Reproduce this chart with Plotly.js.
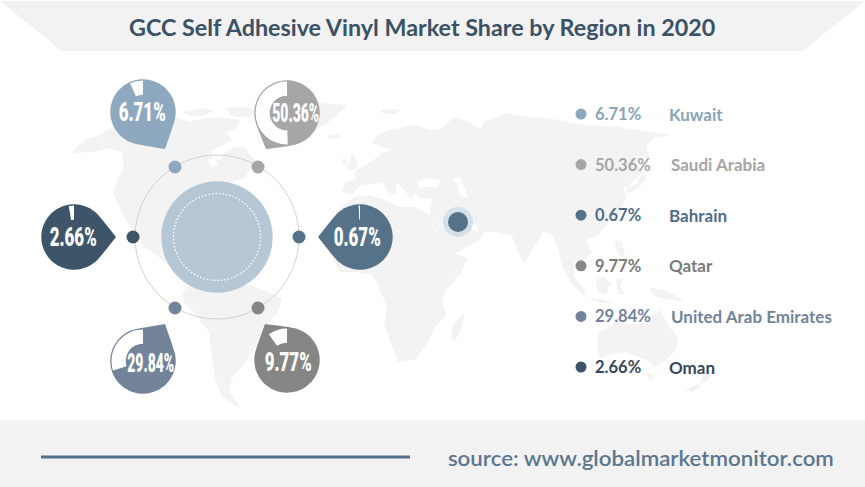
<!DOCTYPE html>
<html>
<head>
<meta charset="utf-8">
<script src="https://cdn.plot.ly/plotly-3.0.1.min.js"></script>
<style>html,body{margin:0;padding:0;background:#fff}#chart{width:865px;height:487px}</style>
</head>
<body>
<div id="chart"></div>
<script>
// ---- chart data ----
const regions = ['Kuwait', 'Saudi Arabia', 'Bahrain', 'Qatar', 'United Arab Emirates', 'Oman'];
const shares = [6.71, 50.36, 0.67, 9.77, 29.84, 2.66];
const colors = ['#8ea9bf', '#a6a6a6', '#557289', '#868686', '#72839a', '#3e5469'];
const legendTextColors = ['#88a3ba', '#a6a6a6', '#4f6d89', '#7a7a7a', '#72839a', '#36495c'];
const titleText = 'GCC Self Adhesive Vinyl Market Share by Region in 2020';
const sourceText = 'source: www.globalmarketmonitor.com';

// ---- layout geometry (page pixels) ----
const W = 865, H = 487;
const dropCenters = [[143, 112], [287, 113], [360, 237], [287, 360], [143, 361], [74, 237]];
const dropTips = [[165, 149], [266, 149], [318, 237], [265, 324], [165, 324], [116, 237]];
const dropLabels = [[142, 111.7], [295, 113], [357, 236.7], [288, 361.7], [150, 362.7], [72.7, 236.7]];
const dropR = 32.7;
const ringDots = [[175, 167], [258, 167], [299, 237], [258, 308], [175, 308], [133, 237]];
const legendX = 581, legendTop = 114, legendStep = 50.6;

// ---- background map outlines (decorative, page pixels) ----
const mapOutlines = [
 // North America
 [[73,153],[78,146],[85,140],[98,136],[110,128],[140,122],[160,119],[177,118],[190,122],[203,118],[222,117],[240,120],[236,128],[226,133],[232,140],[222,146],[212,150],[212,158],[220,160],[226,152],[236,146],[245,148],[250,155],[256,162],[250,170],[244,178],[232,182],[224,190],[212,198],[206,208],[206,222],[198,218],[186,226],[176,230],[170,240],[176,256],[186,262],[196,272],[205,282],[190,286],[178,274],[160,258],[146,248],[134,232],[122,214],[113,192],[118,178],[124,168],[122,152],[108,148],[92,152]],
 // Greenland
 [[262,110],[290,104],[320,103],[347,105],[336,116],[326,124],[312,132],[296,144],[282,140],[272,128],[268,118]],
 // Arctic islands
 [[182,112],[200,108],[214,110],[204,116],[190,116]],[[226,108],[246,106],[258,112],[248,118],[232,116]],
 // South America
 [[182,292],[190,286],[205,283],[225,287],[250,285],[268,292],[282,298],[278,312],[266,326],[258,342],[253,350],[243,365],[232,378],[229,392],[240,408],[232,404],[222,396],[216,382],[213,366],[209,332],[195,314],[184,302]],
 // Africa
 [[343,205],[355,197],[370,195],[385,200],[400,207],[415,207],[428,214],[436,232],[450,250],[456,254],[467,258],[462,272],[446,290],[442,300],[446,315],[434,328],[427,345],[414,360],[398,362],[392,346],[384,324],[387,307],[378,285],[372,275],[356,272],[340,272],[326,246],[330,222]],
 // Madagascar
 [[465,313],[461,328],[456,339],[452,340],[452,327],[457,320]],
 // Eurasia
 [[342,192],[345,182],[356,180],[354,172],[364,166],[376,158],[384,152],[392,150],[380,146],[372,143],[376,136],[388,130],[400,128],[414,125],[430,130],[440,130],[447,123],[455,117],[470,122],[480,130],[484,122],[507,113],[527,117],[547,118],[570,122],[585,125],[617,127],[650,132],[670,135],[654,138],[646,146],[650,158],[640,156],[636,164],[643,172],[634,180],[628,188],[624,186],[626,198],[620,214],[610,220],[606,226],[596,236],[586,240],[592,252],[584,260],[574,262],[574,276],[586,296],[578,290],[566,274],[562,266],[558,248],[552,234],[544,232],[532,250],[525,263],[519,254],[512,236],[496,232],[484,232],[480,240],[462,250],[452,254],[440,238],[430,218],[431,204],[434,198],[420,199],[414,192],[412,200],[404,190],[396,182],[396,192],[390,196],[382,182],[370,184],[360,186],[352,194]],
 // Britain, Iceland, Svalbard
 [[352,152],[358,166],[354,170],[346,170],[350,160]],[[343,158],[348,160],[346,166],[342,164]],[[327,136],[338,134],[340,138],[330,139]],[[380,110],[400,109],[396,114],[384,114]],
 // Japan, Philippines
 [[643,172],[646,180],[638,188],[628,194],[626,190],[636,184]],[[616,240],[622,242],[625,256],[620,256],[615,248]],
 // Sumatra, Java, Borneo, Sulawesi, New Guinea
 [[565,272],[574,276],[586,292],[582,294],[572,284]],[[587,298],[600,299],[614,303],[600,303]],[[596,280],[604,276],[611,284],[606,294],[598,293]],[[616,280],[624,278],[620,286],[624,294],[618,294]],[[650,287],[664,290],[676,296],[684,302],[672,300],[660,298],[652,294]],
 // Australia
 [[598,333],[610,326],[620,320],[630,324],[647,323],[650,316],[660,310],[666,322],[678,337],[676,350],[668,358],[654,367],[647,360],[636,356],[626,352],[612,354],[600,358],[597,346]],
 // Tasmania, New Zealand
 [[648,374],[654,374],[652,380],[648,379]],[[704,374],[713,372],[708,380],[700,384]],[[698,384],[702,386],[692,392],[684,390]]
];
const mapHoles = [
 // Black Sea, Caspian, Hudson Bay, Gulf
 [[417,182],[428,178],[440,180],[438,187],[426,187],[420,188]],
 [[453,178],[460,177],[466,190],[467,198],[460,196],[458,186]],
 [[208,160],[214,158],[218,164],[212,168]],
 [[470,222],[478,226],[478,232],[470,228]]
];

// ---- helpers ----
function polyPath(pts) {
  return 'M' + pts.map(p => p[0] + ',' + p[1]).join('L') + 'Z';
}
function dropPath(c, t, r) {
  const base = Math.atan2(t[1] - c[1], t[0] - c[0]);
  const spread = 43 * Math.PI / 180;
  let d = '';
  const n = 60;
  for (let i = 0; i <= n; i++) {
    const a = base + spread + (2 * Math.PI - 2 * spread) * i / n;
    const px = c[0] + r * Math.cos(a), py = c[1] + r * Math.sin(a);
    d += (i === 0 ? 'M' : 'L') + px.toFixed(2) + ',' + py.toFixed(2);
  }
  const a1 = base - spread, a2 = base + spread;
  const p1 = [c[0] + r * Math.cos(a1), c[1] + r * Math.sin(a1)];
  const p2 = [c[0] + r * Math.cos(a2), c[1] + r * Math.sin(a2)];
  const k = r * 0.18;
  const q1 = [p1[0] - k * Math.sin(a1), p1[1] + k * Math.cos(a1)];
  const q2 = [p2[0] + k * Math.sin(a2), p2[1] - k * Math.cos(a2)];
  d += 'Q' + q1[0].toFixed(2) + ',' + q1[1].toFixed(2) + ' ' + t[0] + ',' + t[1];
  d += 'Q' + q2[0].toFixed(2) + ',' + q2[1].toFixed(2) + ' ' + p2[0].toFixed(2) + ',' + p2[1].toFixed(2) + 'Z';
  return d;
}
const shape = (path, fill, extra) => Object.assign({
  type: 'path', xref: 'x', yref: 'y', path, fillcolor: fill, line: {width: 0}, layer: 'below'
}, extra || {});

// ---- shapes ----
const shapes = [];
mapOutlines.forEach(o => shapes.push(shape(polyPath(o), '#f3f3f3')));
mapHoles.forEach(o => shapes.push(shape(polyPath(o), '#ffffff')));
shapes.push(shape(polyPath([[0, 1], [W, 1], [803, 51], [62, 51]]), '#f2f2f2'));
shapes.push({type: 'rect', xref: 'x', yref: 'y', x0: 0, x1: W, y0: 420, y1: H, fillcolor: '#f2f2f2', line: {width: 0}, layer: 'below'});
shapes.push({type: 'line', xref: 'x', yref: 'y', x0: 41, x1: 410, y0: 457, y1: 457, line: {color: '#536f8a', width: 3}, layer: 'below'});
shapes.push({type: 'circle', xref: 'x', yref: 'y', x0: 135, x1: 299, y0: 155, y1: 319, line: {color: '#d2d2d2', width: 1}, layer: 'below'});
shapes.push({type: 'circle', xref: 'x', yref: 'y', x0: 161.3, x1: 272.7, y0: 181.3, y1: 292.7, fillcolor: 'rgba(176,194,211,0.92)', line: {width: 0}, layer: 'below'});
shapes.push({type: 'circle', xref: 'x', yref: 'y', x0: 173.5, x1: 260.5, y0: 193.5, y1: 280.5, line: {color: '#ffffff', width: 1.3, dash: '1.5px,2px'}, layer: 'below'});
shapes.push({type: 'circle', xref: 'x', yref: 'y', x0: 443, x1: 473, y0: 207, y1: 237, fillcolor: '#d5e0e8', line: {width: 0}, layer: 'below'});
shapes.push({type: 'circle', xref: 'x', yref: 'y', x0: 448, x1: 468, y0: 212, y1: 232, fillcolor: '#557289', line: {width: 0}, layer: 'below'});
regions.forEach((r, i) => shapes.push(shape(dropPath(dropCenters[i], dropTips[i], dropR), colors[i])));

// ---- traces ----
const traces = [];
traces.push({
  type: 'scatter', mode: 'markers', xaxis: 'x', yaxis: 'y', hoverinfo: 'skip', showlegend: false,
  x: ringDots.map(p => p[0]), y: ringDots.map(p => p[1]),
  marker: {size: 13, color: colors, line: {width: 0}}
});
traces.push({
  type: 'scatter', mode: 'markers', xaxis: 'x', yaxis: 'y', hoverinfo: 'skip', showlegend: false,
  x: regions.map(() => legendX), y: regions.map((r, i) => legendTop + i * legendStep),
  marker: {size: 11, color: colors, line: {width: 0}}
});
regions.forEach((r, i) => {
  const pr = 31.5;
  const c = dropCenters[i];
  traces.push({
    type: 'pie', sort: false, direction: 'clockwise', rotation: 0, hole: 0.55,
    values: [100 - shares[i], shares[i]], labels: ['rest', r],
    marker: {colors: ['rgba(0,0,0,0)', '#ffffff'], line: {width: 0}},
    textinfo: 'none', hoverinfo: 'skip', showlegend: false, automargin: false,
    domain: {x: [(c[0] - pr) / W, (c[0] + pr) / W], y: [1 - (c[1] + pr) / H, 1 - (c[1] - pr) / H]}
  });
});

// ---- annotations ----
const uiFont = 'Lato, "Open Sans", sans-serif';
const ann = (x, y, text, font, color, size, xanchor) => ({
  xref: 'x', yref: 'y', x, y, text, showarrow: false, xanchor: xanchor || 'center', yanchor: 'middle',
  font: {family: font, color, size, weight: 700}, borderpad: 0
});
const annotations = [
  ann(421.5, 27, titleText, uiFont, '#3b5166', 23.3),
  ann(641, 457, sourceText, uiFont, '#5a7690', 21)
];
annotations[1].font.weight = 600;
const fitted = {1: 386};
regions.forEach((r, i) => {
  const y = legendTop + i * legendStep;
  annotations.push(ann(593.5, y, shares[i].toFixed(2) + '%', uiFont, legendTextColors[i], 16.5, 'left'));
  const labelX = (r === 'United Arab Emirates' || r === 'Saudi Arabia') ? 669.5 : 667.5;
  annotations.push(ann(labelX, y, r, uiFont, legendTextColors[i], 17, 'left'));
  const c = dropLabels[i];
  fitted[annotations.length] = 47;
  annotations.push(ann(c[0], c[1], shares[i].toFixed(2) + '%', 'Roboto, "Liberation Sans", sans-serif', '#ffffff', 26));
  annotations[annotations.length - 1].font.weight = 900;
});

const layout = {
  width: W, height: H, margin: {l: 0, r: 0, t: 0, b: 0}, paper_bgcolor: '#ffffff', plot_bgcolor: 'rgba(0,0,0,0)',
  showlegend: false, dragmode: false, hovermode: false,
  xaxis: {range: [0, W], visible: false, fixedrange: true},
  yaxis: {range: [H, 0], visible: false, fixedrange: true},
  shapes, annotations
};
Plotly.newPlot('chart', traces, layout, {displayModeBar: false, staticPlot: true}).then(gd => {
  // the source uses condensed lettering: squeeze the text to the measured widths
  Object.keys(fitted).forEach(i => {
    const t = gd.querySelector('.annotation[data-index="' + i + '"] text');
    if (t) { t.setAttribute('textLength', fitted[i]); t.setAttribute('lengthAdjust', 'spacingAndGlyphs'); }
  });
});
</script>
</body>
</html>
